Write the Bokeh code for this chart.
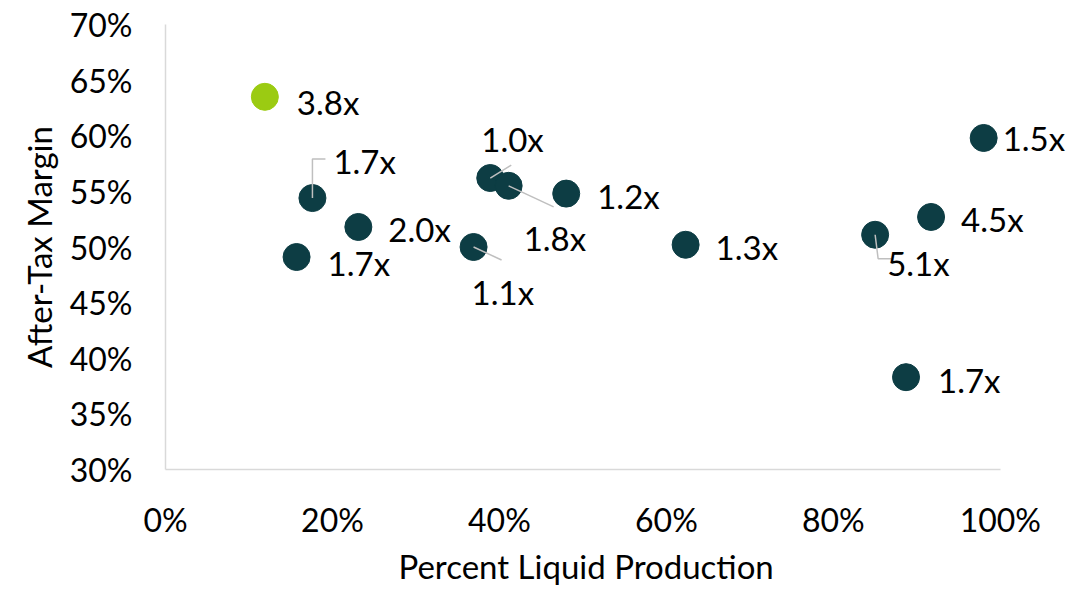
from bokeh.plotting import figure
from bokeh.models import Range1d, FixedTicker, NumeralTickFormatter, ColumnDataSource, Title
from bokeh.embed import file_html
from bokeh.resources import INLINE
from bokeh.core.properties import value

# ---- data ----
liquid_pct = [0.119, 0.176, 0.231, 0.157, 0.369, 0.389, 0.411, 0.480, 0.623, 0.850, 0.917, 0.980, 0.887]
after_tax = [0.635, 0.544, 0.518, 0.491, 0.500, 0.562, 0.555, 0.548, 0.502, 0.511, 0.527, 0.598, 0.383]
multiples = ["3.8x", "1.7x", "2.0x", "1.7x", "1.1x", "1.0x", "1.8x", "1.2x", "1.3x", "5.1x", "4.5x", "1.5x", "1.7x"]
highlight = [True, False, False, False, False, False, False, False, False, False, False, False, False]

x_ticks = [0, 0.2, 0.4, 0.6, 0.8, 1.0]
y_ticks = [0.30, 0.35, 0.40, 0.45, 0.50, 0.55, 0.60, 0.65, 0.70]
x_title = "Percent Liquid Production"
y_title = "After-Tax Margin"

# ---- styling / label placement (screen pixels, y down) ----
label_dx = [32, 21, 30, 31, -2, -9, 15, 31, 30, 12, 30, 19, 32]
label_dy = [5, -37, 2, 6, 45, -39, 52, 2, 2, 28, 2, 0, 3]
leaders = {1: [(0, 0), (0, -39), (13, -39)],
           4: [(0, 0), (28, 13)],
           5: [(0, 0), (21, -13)],
           6: [(0, 0), (45, 21)],
           9: [(0, 0), (3, 24), (16, 24)]}

DARK = "#0d3d44"
GREEN = "#9bcb12"
FONT = "Lato"

W, H = 1085, 588
ML, MR, MT, MB = 165, 10, 24, 119
X_END = 1.09
p = figure(width=W, height=H, output_backend="svg", toolbar_location=None,
           x_range=Range1d(0, X_END), y_range=Range1d(0.3, 0.7),
           min_border_left=ML, min_border_right=MR, min_border_top=MT, min_border_bottom=MB)
p.outline_line_color = None
p.grid.visible = False
p.background_fill_color = "white"
p.border_fill_color = "white"

frame_w = W - ML - MR
frame_h = H - MT - MB
sx = frame_w / X_END
sy = frame_h / 0.4

for ax in (p.xaxis, p.yaxis):
    ax.formatter = NumeralTickFormatter(format="0%")
    ax.axis_line_color = "#d9d9d9"
    ax.axis_line_width = 1.5
    ax.major_tick_line_color = None
    ax.minor_tick_line_color = None
    ax.major_label_text_font = FONT
    ax.major_label_text_font_size = "32px"
    ax.major_label_text_color = "black"
    ax.axis_label_text_font = FONT
    ax.axis_label_text_font_size = "33px"
    ax.axis_label_text_font_style = "normal"
    ax.axis_label_text_color = "black"

p.xaxis.bounds = (0, 1)
p.xaxis.ticker = FixedTicker(ticks=x_ticks)
p.yaxis.ticker = FixedTicker(ticks=y_ticks)
p.yaxis.axis_label = y_title
p.xaxis.major_label_standoff = 24
p.yaxis.major_label_standoff = 27
p.yaxis.axis_label_standoff = 8

# x-axis title placed under the 0-100% span (frame extends right for labels)
p.add_layout(Title(text=x_title, align="left", offset=233, text_font=FONT,
                   text_font_size="33px", text_font_style="normal", text_color="black",
                   standoff=5), "below")

colors = [GREEN if h else DARK for h in highlight]
src = ColumnDataSource(dict(x=liquid_pct, y=after_tax, c=colors, t=multiples,
                            dx=label_dx, dy=label_dy))
p.scatter("x", "y", source=src, size=27, fill_color="c", line_color="c")

xs, ys = [], []
for i, pts in leaders.items():
    xs.append([liquid_pct[i] + px / sx for px, py in pts])
    ys.append([after_tax[i] - py / sy for px, py in pts])
p.multi_line(xs, ys, line_color="#bfbfbf", line_width=1.5)

p.text("x", "y", text="t", source=src, x_offset="dx", y_offset="dy",
       text_font=value(FONT), text_font_size="33px", text_color="black",
       text_align="left", text_baseline="middle")

open("out.html", "w").write(file_html(p, INLINE))
